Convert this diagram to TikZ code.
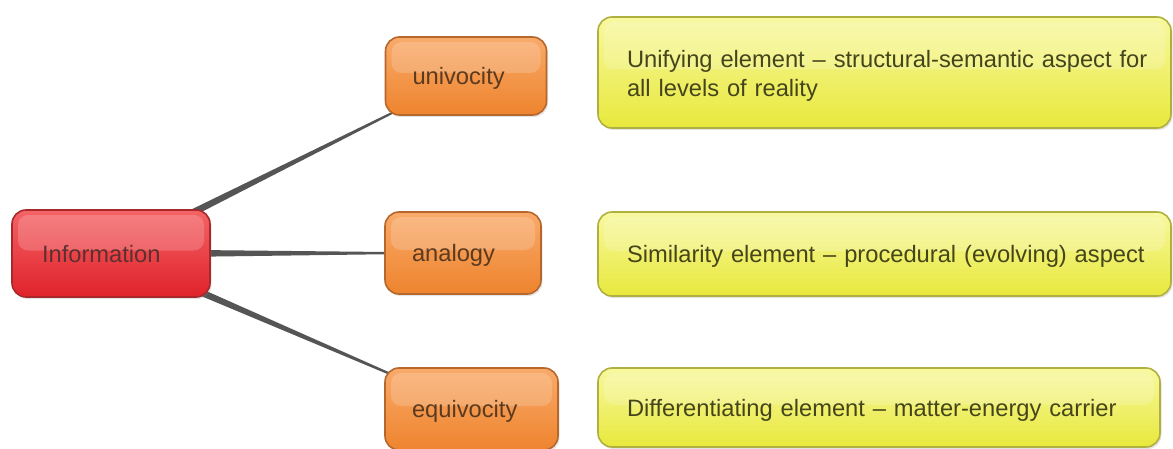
\documentclass[tikz,border=0pt]{standalone}
\usepackage{fontspec}
\setmainfont{Liberation Sans}
\usepackage{tikz}
\usetikzlibrary{calc}
\usetikzlibrary{shadows}
\usetikzlibrary{backgrounds}

\definecolor{infotop}{HTML}{F46466}
\definecolor{infobot}{HTML}{E0222B}
\definecolor{infoline}{HTML}{A8282C}
\definecolor{infotext}{HTML}{5E3030}
\definecolor{termtop}{HTML}{F9AA6A}
\definecolor{termbot}{HTML}{EE842E}
\definecolor{termline}{HTML}{B5672C}
\definecolor{termtext}{HTML}{5A3A20}
\definecolor{notetop}{HTML}{F8F8A0}
\definecolor{notebot}{HTML}{E8E83C}
\definecolor{noteline}{HTML}{B0B040}
\definecolor{notetext}{HTML}{45451C}
\definecolor{linkgray}{HTML}{555555}

\begin{document}
\begin{tikzpicture}[x=1pt,y=1pt,
	box/.style={
		rounded corners=14pt,
		line width=1.6pt,
		align=left,
		font=\fontsize{23.7}{29}\selectfont,
		drop shadow={opacity=0.22,shadow xshift=1.5pt,shadow yshift=-2pt},
		path picture={\fill[white,opacity=0.18,rounded corners=10pt]
			([xshift=6pt,yshift=-5pt]path picture bounding box.north west) rectangle
			([xshift=-6pt,yshift=3pt]path picture bounding box.east);}
	},
	infobox/.style={box,draw=infoline,top color=infotop,bottom color=infobot,text=infotext,
		inner xsep=30pt,text height=21pt,text depth=4pt},
	termbox/.style={box,draw=termline,top color=termtop,bottom color=termbot,text=termtext,
		inner xsep=27pt,text height=21pt,text depth=4pt},
	notebox/.style={box,draw=noteline,top color=notetop,bottom color=notebot,text=notetext,
		inner xsep=29pt}
]
	\useasboundingbox (0,0) rectangle (1173,448);

	% root
	\node[infobox,text width=138pt,minimum height=87pt] (info) at (111,194.5) {Information};

	% the three terms
	\node[termbox,text width=107pt,minimum height=78pt] (univ) at (466,372) {univocity};
	\node[termbox,text width=102pt,minimum height=82pt] (anal) at (463,195) {analogy};
	\node[termbox,text width=119pt,minimum height=82pt] (equiv) at (471.5,39) {equivocity};

	% notes
	\node[notebox,text width=515pt,minimum height=111pt] (unote) at (884.5,375.5)
		{\makebox[515pt][l]{\rule{0pt}{23pt}Unifying element -- structural-semantic aspect for}\\all levels of reality};
	\node[notebox,text width=515pt,minimum height=84pt,text height=21pt,text depth=4pt] (anote) at (884.5,194)
		{\makebox[515pt][l]{Similarity element -- procedural (evolving) aspect}};
	\node[notebox,text width=504pt,minimum height=79pt,text height=21pt,text depth=4pt] (enote) at (879,40.5)
		{\makebox[504pt][l]{Differentiating element -- matter-energy carrier}};

	% tapered links, behind the boxes
	\begin{scope}[on background layer]
		\foreach \to in {univ,anal,equiv}
			\fill[linkgray]
				($(info.center)!4.4pt!90:(\to.center)$) --
				($(\to.center)!0.2pt!-90:(info.center)$) --
				($(\to.center)!0.2pt!90:(info.center)$) --
				($(info.center)!4.4pt!-90:(\to.center)$) -- cycle;
	\end{scope}
\end{tikzpicture}
\end{document}
